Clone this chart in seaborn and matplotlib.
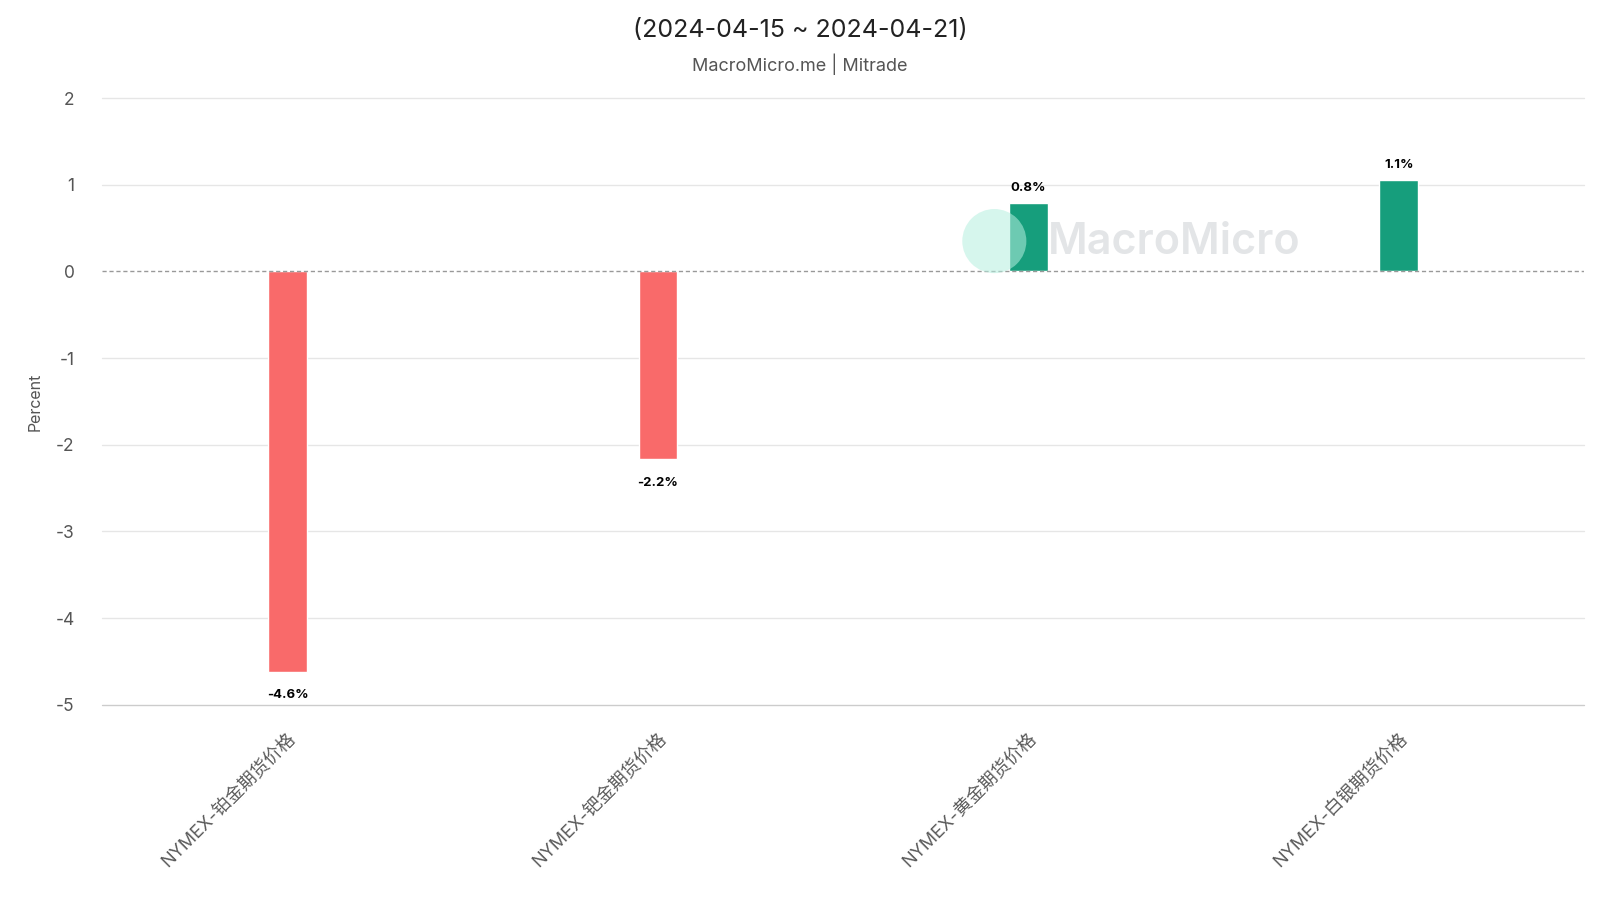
import numpy as np
import pandas as pd
import matplotlib
matplotlib.use("Agg")
import matplotlib.pyplot as plt
from matplotlib.patches import Ellipse
import seaborn as sns

# ─────────────────────────────────────────
# DATA
# ─────────────────────────────────────────
categories = ["NYMEX-铂金期货价格", "NYMEX-钯金期货价格", "NYMEX-黄金期货价格", "NYMEX-白银期货价格"]
values     = [-4.62, -2.17, 0.79, 1.06]
labels     = ["-4.6%", "-2.2%", "0.8%", "1.1%"]
y_ticks    = [2, 1, 0, -1, -2, -3, -4, -5]

df = pd.DataFrame({"name": categories, "value": values})
df["sign"] = np.where(df["value"] < 0, "neg", "pos")

# ─────────────────────────────────────────
# STYLE
# ─────────────────────────────────────────
sns.set_theme(style="white")
plt.rcParams['font.family'] = ['Inter', 'Noto Sans CJK SC', 'DejaVu Sans']

fig = plt.figure(figsize=(16, 9), dpi=100)
ax = fig.add_axes([0.064, 0.217, 0.926, 0.674])

palette = {"neg": "#f96a6a", "pos": "#169e7c"}
sns.barplot(data=df, x="name", y="value", hue="sign", palette=palette,
            width=0.105, dodge=False, legend=False, ax=ax, saturation=1, zorder=2)

# grid lines
for t in y_ticks:
    if t == 0:
        continue
    col = "#cccccc" if t == -5 else "#e6e6e6"
    ax.axhline(t, color=col, lw=1, zorder=0, clip_on=False)
ax.axhline(0, color="#999999", lw=1, ls=(0, (3, 2)), zorder=3)

# data labels
for i, (v, lab) in enumerate(zip(values, labels)):
    if v >= 0:
        ax.text(i, v + 0.1, lab, ha="center", va="bottom", fontsize=9.5,
                fontweight="bold", color="black")
    else:
        ax.text(i, v - 0.2, lab, ha="center", va="top", fontsize=9.5,
                fontweight="bold", color="black")

# watermark
ax.text(2.052, 0.33, "MacroMicro", ha="left", va="center", fontsize=31,
        fontweight="semibold", color="#e3e5e7", zorder=1)
ax.add_patch(Ellipse((1.908, 0.35), 0.173, 0.74, color="#b5efdf",
                     alpha=0.55, zorder=3, lw=0))

ax.set_ylim(-5, 2)
ax.set_xlim(-0.5, 3.5)
ax.set_yticks(y_ticks)
ax.set_yticklabels([str(t) for t in y_ticks], fontsize=12.5, color="#555555")
ax.tick_params(axis="y", length=0, pad=20)
ax.tick_params(axis="x", length=0, pad=18)
ax.set_xticks(range(len(categories)))
ax.set_xticklabels(categories, rotation=45, ha="right", rotation_mode="anchor",
                   fontsize=13, color="#5a5a5a")
ax.set_xlabel("")
ax.set_ylabel("Percent", fontsize=11.5, color="#555555", labelpad=9)
for s in ax.spines.values():
    s.set_visible(False)

fig.text(0.5, 0.966, "(2024-04-15 ~ 2024-04-21)", ha="center", va="center",
         fontsize=18, color="#222222")
fig.text(0.5, 0.929, "MacroMicro.me | Mitrade", ha="center", va="center",
         fontsize=13, color="#555555")

plt.savefig("out.png", dpi=100)
